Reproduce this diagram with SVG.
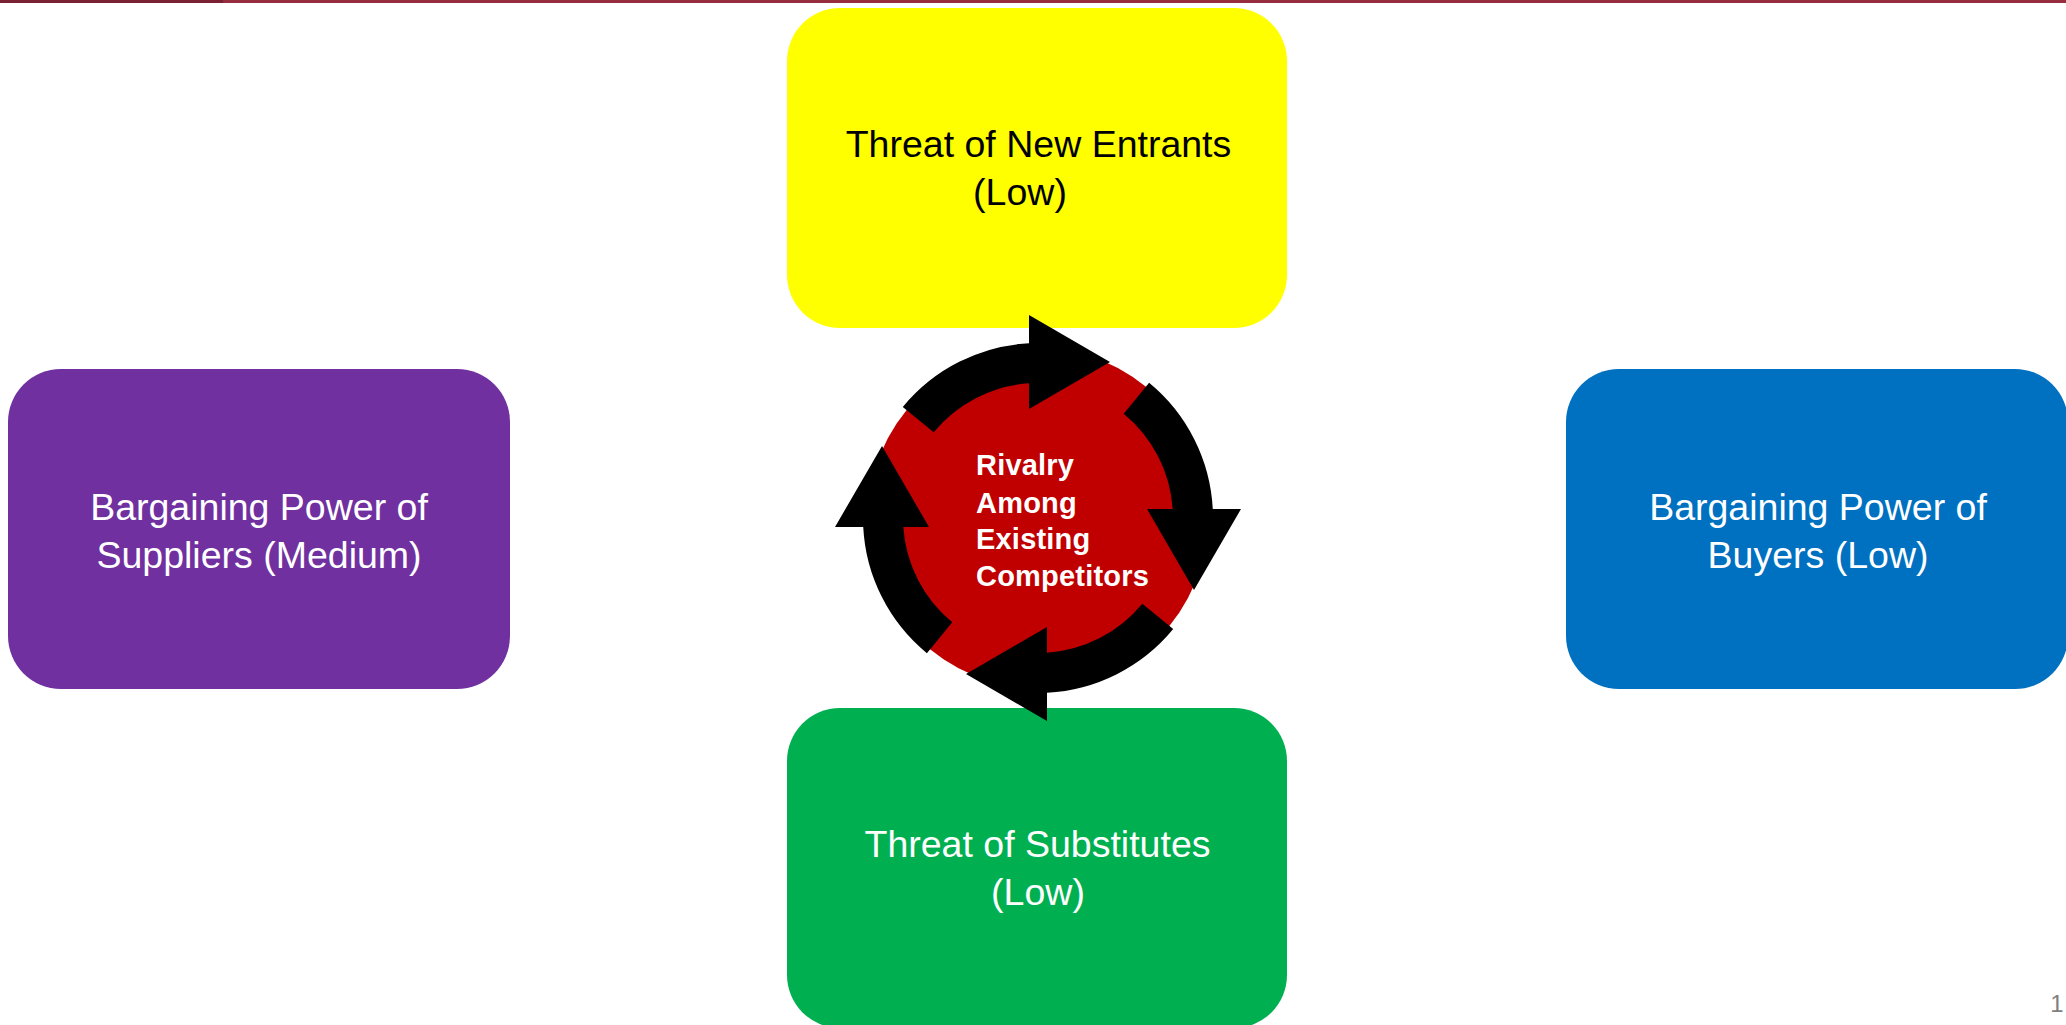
<svg xmlns="http://www.w3.org/2000/svg" width="2066" height="1025" viewBox="0 0 2066 1025">
  <style>
    .lbl { font-family: "Liberation Sans", Arial, sans-serif; font-size: 37.5px; text-anchor: middle; }
    .white { fill: #FFFFFF; }
    .black { fill: #000000; }
    .center { font-family: "Liberation Sans", Arial, sans-serif; font-size: 29px; font-weight: bold; fill: #FFFFFF; letter-spacing: 0.2px; }
    .cyc { fill: #000000; }
  </style>
  <defs>
    <path id="cycArrow" d="M -135.2 -111.1 A 175 175 0 0 1 -9 -174.77 L -9 -203 L 72 -156 L -9 -109 L -9 -134.7 A 135 135 0 0 0 -104.3 -85.7 Z"/>
  </defs>
  <rect x="0" y="0" width="2066" height="1025" fill="#FFFFFF"/>
  <rect x="0" y="0" width="2066" height="3" fill="#962D3F"/>
  <rect x="0" y="0" width="223" height="3" fill="#7B1F33"/>

  <g id="new-entrants">
    <rect x="787" y="8" width="500" height="320" rx="53" ry="53" fill="#FFFF00"/>
    <text class="lbl black" x="1038.5" y="157">Threat of New Entrants</text>
    <text class="lbl black" x="1020" y="205">(Low)</text>
  </g>

  <g id="suppliers">
    <rect x="8" y="369" width="502" height="320" rx="53" ry="53" fill="#7030A0"/>
    <text class="lbl white" x="259" y="520">Bargaining Power of</text>
    <text class="lbl white" x="259" y="568">Suppliers (Medium)</text>
  </g>

  <g id="buyers">
    <rect x="1566" y="369" width="502" height="320" rx="53" ry="53" fill="#0070C0"/>
    <text class="lbl white" x="1818" y="520">Bargaining Power of</text>
    <text class="lbl white" x="1818" y="568">Buyers (Low)</text>
  </g>

  <g id="substitutes">
    <rect x="787" y="708" width="500" height="320" rx="53" ry="53" fill="#00B050"/>
    <text class="lbl white" x="1037.5" y="857">Threat of Substitutes</text>
    <text class="lbl white" x="1038" y="905">(Low)</text>
  </g>

  <g id="rivalry">
    <circle cx="1038" cy="518" r="170" fill="#C00000"/>
    <text class="center" x="976" y="475">Rivalry</text>
    <text class="center" x="976" y="513">Among</text>
    <text class="center" x="976" y="549">Existing</text>
    <text class="center" x="976" y="586">Competitors</text>
  </g>

  <g id="connectors">
    <use href="#cycArrow" class="cyc" transform="translate(1038 518)"/>
    <use href="#cycArrow" class="cyc" transform="translate(1038 518) rotate(90)"/>
    <use href="#cycArrow" class="cyc" transform="translate(1038 518) rotate(180)"/>
    <use href="#cycArrow" class="cyc" transform="translate(1038 518) rotate(270)"/>
  </g>

  <text x="2057" y="1012" font-family="Liberation Sans, Arial, sans-serif" font-size="24" fill="#7F7F7F" text-anchor="middle">1</text>
</svg>
